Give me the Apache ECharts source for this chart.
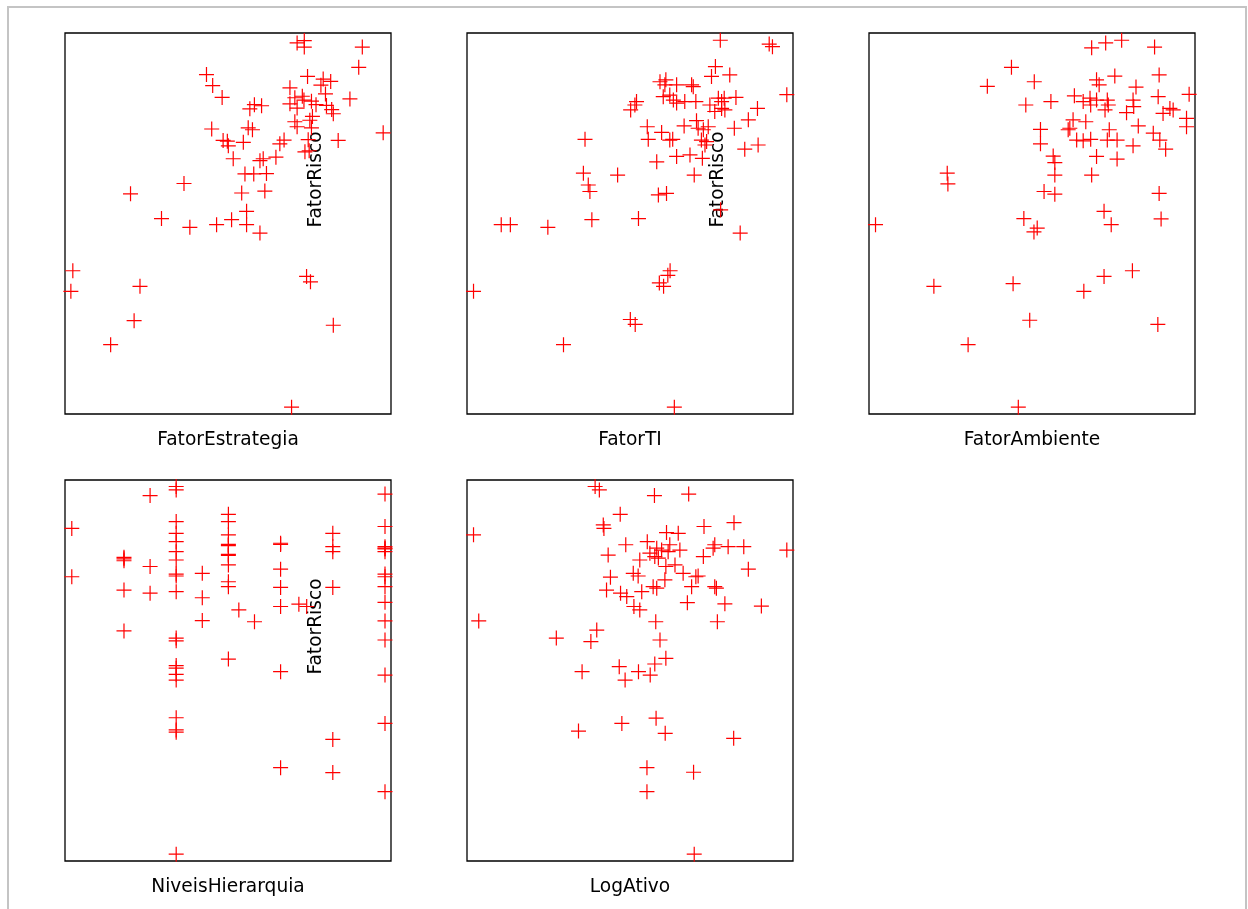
<!DOCTYPE html>
<html>
<head>
<meta charset="utf-8">
<script src="https://cdn.jsdelivr.net/npm/echarts@6/dist/echarts.min.js"></script>
<style>
  body { margin: 0; background: #fff; overflow: hidden; }
  #frame { position: absolute; left: 7px; top: 6px; width: 1236px; height: 1000px; border: 2px solid #c4c4c4; }
  #chart { position: absolute; left: 0; top: 0; width: 1248px; height: 909px; }
</style>
</head>
<body>
<div id="frame"></div>
<div id="chart"></div>
<script>
// FatorRisco (y) contra cada variavel (x), escala 0-100
var xNames = ['FatorEstrategia', 'FatorTI', 'FatorAmbiente', 'NiveisHierarquia', 'LogAtivo']
var yName = 'FatorRisco'

var estrategiaPts = [
  [71.2, 97.4], [73.4, 98.0], [73.4, 96.3], [91.2, 96.3], [90.1, 91.0], [43.4, 89.1], [45.3, 86.2],
  [48.2, 83.1], [74.4, 88.6], [79.2, 87.9], [81.5, 87.3], [78.5, 86.3], [69.0, 85.6], [79.9, 84.0],
  [87.4, 82.7], [70.5, 83.0], [72.8, 83.4], [73.3, 82.4], [69.0, 81.4], [71.2, 80.3], [75.6, 82.1],
  [77.0, 81.2], [80.2, 81.0], [81.8, 79.9], [82.3, 78.8], [56.7, 80.1], [58.1, 81.2], [60.3, 80.9],
  [75.9, 78.1], [70.5, 76.7], [71.2, 75.4], [75.1, 77.1], [75.6, 75.1], [97.6, 73.8], [45.0, 74.8],
  [56.2, 75.1], [57.5, 74.6], [48.5, 71.8], [49.8, 71.6], [50.1, 70.4], [54.7, 71.3], [67.2, 71.9],
  [65.9, 70.9], [83.8, 71.8], [74.6, 72.0], [73.6, 68.8], [74.9, 69.1], [64.7, 67.4], [51.6, 67.0],
  [59.8, 66.5], [60.8, 67.0], [55.2, 63.0], [57.9, 63.0], [61.8, 63.1], [54.2, 58.0], [61.3, 58.5],
  [20.1, 57.8], [36.5, 60.5], [29.6, 51.3], [38.3, 49.0], [46.5, 49.7], [51.1, 51.0], [55.7, 53.2],
  [55.7, 49.7], [59.8, 47.5], [2.4, 37.6], [1.8, 32.2], [23.0, 33.5], [21.2, 24.5], [14.0, 18.2],
  [74.1, 36.1], [75.3, 34.7], [82.3, 23.3], [69.5, 1.8]
]

var tiPts = [
  [77.7, 98.1], [92.7, 97.1], [93.7, 96.4], [76.2, 91.2], [75.0, 88.6], [80.6, 89.0], [59.2, 87.2],
  [61.0, 87.7], [60.7, 86.4], [64.3, 86.4], [68.9, 86.4], [69.4, 85.9], [52.0, 82.0], [51.5, 81.1],
  [50.2, 79.8], [60.2, 83.3], [62.2, 83.7], [63.3, 82.4], [64.3, 81.6], [66.8, 82.0], [70.2, 82.0],
  [74.5, 81.1], [77.1, 82.9], [78.1, 82.0], [78.9, 82.9], [82.5, 83.1], [78.1, 80.2], [79.1, 79.8],
  [76.0, 79.4], [98.1, 83.8], [89.1, 80.2], [86.3, 77.2], [82.0, 75.0], [55.3, 75.4], [55.6, 72.1],
  [59.7, 73.9], [62.2, 71.9], [63.1, 72.1], [66.6, 75.6], [70.4, 77.0], [70.9, 75.0], [72.5, 74.6],
  [74.0, 75.4], [71.9, 71.9], [73.5, 71.5], [73.0, 70.6], [36.2, 72.1], [89.3, 70.6], [85.2, 69.5],
  [64.3, 67.6], [68.4, 68.0], [72.2, 67.1], [58.2, 66.2], [69.7, 62.7], [35.7, 63.2], [37.2, 60.1],
  [37.7, 58.4], [46.2, 62.7], [58.7, 57.5], [61.2, 57.9], [77.8, 53.6], [38.3, 51.0], [52.6, 51.3],
  [10.5, 49.7], [13.3, 49.7], [24.8, 49.0], [83.8, 47.5], [62.3, 37.6], [61.6, 36.4], [59.0, 34.4],
  [60.3, 33.5], [2.0, 32.2], [50.1, 24.8], [51.6, 23.5], [29.6, 18.2], [63.6, 1.8]
]

var ambientePts = [
  [77.5, 98.1], [72.6, 97.4], [68.3, 96.1], [87.6, 96.3], [43.7, 91.0], [36.3, 86.0], [50.7, 87.2],
  [69.8, 87.7], [70.6, 86.4], [75.4, 88.7], [89.0, 89.0], [81.9, 85.8], [98.2, 83.9], [48.1, 81.1],
  [55.8, 82.0], [63.0, 83.5], [65.7, 82.0], [67.8, 82.9], [68.0, 81.1], [69.8, 82.4], [73.1, 82.4],
  [73.4, 81.1], [72.4, 79.8], [81.0, 82.4], [81.2, 80.7], [79.0, 79.1], [88.7, 83.3], [92.3, 80.2],
  [93.3, 79.8], [90.2, 78.9], [97.4, 77.6], [97.4, 75.4], [62.6, 77.2], [61.6, 75.0], [61.1, 74.6],
  [66.5, 76.7], [52.6, 74.7], [52.6, 70.9], [63.7, 71.9], [65.7, 71.7], [68.0, 72.1], [73.7, 74.6],
  [73.1, 71.9], [76.1, 71.9], [82.6, 75.6], [87.2, 73.7], [89.2, 71.9], [91.0, 69.5], [81.0, 70.4],
  [69.8, 67.6], [76.1, 66.9], [56.5, 67.7], [57.0, 66.0], [57.0, 62.7], [68.3, 62.7], [53.7, 58.4],
  [57.0, 57.7], [89.0, 57.9], [24.0, 63.2], [24.2, 60.4], [72.1, 53.2], [74.3, 49.7], [89.6, 51.2],
  [47.5, 51.3], [51.6, 48.8], [50.6, 47.8], [2.0, 49.7], [72.1, 36.1], [80.8, 37.6], [44.2, 34.2],
  [65.9, 32.2], [19.9, 33.5], [49.3, 24.6], [88.6, 23.5], [30.4, 18.2], [45.8, 1.8]
]

// niveis hierarquicos (0 a 12)
var hierarquiaPts = [
  [0, 87.3], [0, 74.6],
  [2, 79.7], [2, 79.3], [2, 78.8], [2, 71.1], [2, 60.4],
  [3, 95.9], [3, 77.3], [3, 70.3],
  [4, 98.3], [4, 97.4], [4, 89.1], [4, 86.0], [4, 83.8], [4, 81.2], [4, 79.0], [4, 75.3], [4, 74.8],
  [4, 70.7], [4, 58.5], [4, 57.8], [4, 51.3], [4, 50.6], [4, 49.0], [4, 47.5], [4, 37.6], [4, 34.4],
  [4, 33.8], [4, 1.8],
  [5, 75.5], [5, 69.1], [5, 63.1],
  [6, 91.0], [6, 89.1], [6, 85.6], [6, 83.1], [6, 82.8], [6, 80.5], [6, 80.2], [6, 77.7], [6, 73.3],
  [6, 72.0], [6, 53.0],
  [6.4, 65.9], [7, 62.8],
  [8, 83.4], [8, 83.1], [8, 76.6], [8, 71.8], [8, 66.8], [8, 49.7], [8, 24.5],
  [8.7, 67.4], [9, 66.8],
  [10, 86.0], [10, 82.5], [10, 81.2], [10, 71.8], [10, 31.9], [10, 23.2],
  [12, 96.3], [12, 87.8], [12, 82.5], [12, 82.1], [12, 81.9], [12, 81.2], [12, 75.3], [12, 74.6],
  [12, 72.0], [12, 67.9], [12, 63.0], [12, 58.0], [12, 48.8], [12, 36.1], [12, 18.2]
]

var logAtivoPts = [
  [39.3, 98.3], [40.6, 97.4], [57.5, 95.9], [68.0, 96.3], [47.0, 91.0], [41.8, 88.2], [42.0, 87.3],
  [2.0, 85.6], [72.7, 87.8], [81.9, 88.8], [61.2, 86.2], [64.8, 86.0], [48.7, 83.0], [55.3, 83.8],
  [58.2, 82.1], [59.7, 81.6], [62.2, 83.0], [61.7, 81.2], [65.3, 81.6], [56.1, 80.8], [57.6, 79.9],
  [58.7, 79.5], [53.0, 79.0], [43.3, 80.3], [76.0, 83.0], [75.5, 82.1], [80.1, 82.5], [84.9, 82.5],
  [98.1, 81.6], [72.5, 79.9], [61.0, 77.3], [63.8, 77.7], [86.3, 76.6], [51.0, 75.5], [52.5, 74.8],
  [44.0, 74.5], [66.3, 75.5], [70.2, 74.6], [70.9, 74.8], [68.9, 72.0], [60.7, 73.8], [57.1, 72.0],
  [58.2, 71.6], [53.6, 70.7], [76.0, 72.0], [76.5, 71.6], [47.1, 70.3], [49.0, 69.4], [42.8, 71.1],
  [51.2, 66.8], [53.0, 65.9], [67.6, 67.8], [79.1, 67.5], [90.3, 66.9], [57.9, 62.8], [76.8, 62.8],
  [3.6, 63.0], [39.8, 60.6], [38.0, 57.6], [27.4, 58.5], [59.2, 58.0], [61.0, 53.2], [57.6, 51.7],
  [46.7, 51.0], [52.6, 49.7], [56.2, 48.8], [48.5, 47.5], [35.3, 49.7], [58.0, 37.5], [47.5, 36.1],
  [34.2, 34.1], [60.8, 33.5], [81.8, 32.2], [55.2, 24.5], [69.5, 23.3], [55.2, 18.2], [69.7, 1.8]
]

var panels = [estrategiaPts, tiPts, ambientePts, hierarquiaPts, logAtivoPts]
var xRanges = [[0, 100], [0, 100], [0, 100], [-0.26, 12.23], [0, 100]]

var chart = echarts.init(document.getElementById('chart'))

var grids = [], xAxes = [], yAxes = [], series = []
var lefts = [65, 467, 869]
var tops = [33, 480]
var labelFont = { fontFamily: 'DejaVu Sans', fontSize: 18.6, color: '#000' }

for (var i = 0; i < panels.length; i++) {
  grids.push({
    left: lefts[i % 3], top: tops[Math.floor(i / 3)], width: 326, height: 381,
    outerBoundsMode: 'none', containLabel: false,
    show: true, borderColor: '#000', borderWidth: 1.3, backgroundColor: 'transparent'
  })
  xAxes.push({
    gridIndex: i, type: 'value', min: xRanges[i][0], max: xRanges[i][1],
    name: xNames[i], nameLocation: 'middle', nameGap: 17, nameTextStyle: labelFont,
    axisLine: { show: false }, axisTick: { show: false }, axisLabel: { show: false }, splitLine: { show: false }
  })
  yAxes.push({
    gridIndex: i, type: 'value', min: 0, max: 100,
    name: yName, nameLocation: 'middle', nameGap: 141,
    nameTextStyle: Object.assign({ padding: [0, 0, 0, 88] }, labelFont),
    axisLine: { show: false }, axisTick: { show: false }, axisLabel: { show: false }, splitLine: { show: false }
  })
  series.push({
    type: 'scatter', xAxisIndex: i, yAxisIndex: i, data: panels[i],
    symbol: 'path://M0,8L16,8M8,0L8,16', symbolSize: 15,
    itemStyle: { color: 'none', borderColor: '#ff0000', borderWidth: 1.2, opacity: 1 },
    silent: true
  })
}

chart.setOption({
  animation: false,
  grid: grids,
  xAxis: xAxes,
  yAxis: yAxes,
  series: series
})
</script>
</body>
</html>
